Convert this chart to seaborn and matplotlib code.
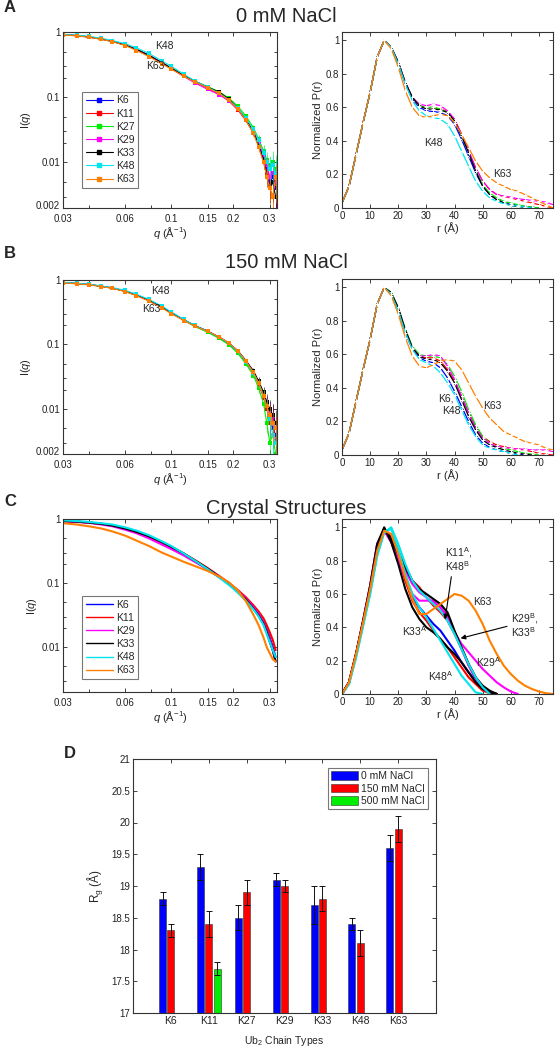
import numpy as np
import pandas as pd
import matplotlib
matplotlib.use('Agg')
import matplotlib.pyplot as plt
import matplotlib.transforms as mtrans
import seaborn as sns
from matplotlib.patches import Patch
from matplotlib.lines import Line2D
from matplotlib.ticker import FixedLocator, NullFormatter, FormatStrFormatter, LogLocator

sns.set_style('ticks')
plt.rcParams['font.family'] = ['Liberation Sans', 'DejaVu Sans']
plt.rcParams['mathtext.fontset'] = 'custom'
plt.rcParams['mathtext.rm'] = 'Liberation Sans'
plt.rcParams['mathtext.it'] = 'Liberation Sans:italic'

# ---- data ----
chains = ['K6', 'K11', 'K27', 'K29', 'K33', 'K48', 'K63']
colors = {'K6': '#0000ff', 'K11': '#ff0000', 'K27': '#00ee00', 'K29': '#ff00ff',
          'K33': '#000000', 'K48': '#00e5ee', 'K63': '#ff8000'}

q = [0.030, 0.035, 0.040, 0.046, 0.052, 0.060, 0.068, 0.078, 0.090, 0.100, 0.115, 0.130,
     0.150, 0.170, 0.190, 0.210, 0.230, 0.250, 0.265, 0.280, 0.290, 0.300, 0.310, 0.320]
q_relerr = [0.005, 0.005, 0.005, 0.005, 0.005, 0.006, 0.007, 0.008, 0.01, 0.01, 0.012, 0.015,
            0.02, 0.025, 0.03, 0.04, 0.06, 0.1, 0.15, 0.22, 0.3, 0.4, 0.5, 0.6]

# 0 mM NaCl, I(q)
iq_0 = {
    'K6':  [0.91, 0.88, 0.84, 0.78, 0.72, 0.63, 0.54, 0.44, 0.34, 0.28, 0.215, 0.175, 0.14, 0.114, 0.090, 0.066, 0.045, 0.029, 0.019, 0.012, 0.008, 0.005, 0.006, 0.004],
    'K11': [0.91, 0.88, 0.84, 0.78, 0.72, 0.63, 0.54, 0.44, 0.34, 0.28, 0.213, 0.172, 0.138, 0.112, 0.088, 0.064, 0.044, 0.028, 0.018, 0.010, 0.007, 0.004, 0.003, 0.005],
    'K27': [0.91, 0.88, 0.84, 0.78, 0.72, 0.63, 0.54, 0.44, 0.34, 0.28, 0.216, 0.177, 0.145, 0.122, 0.097, 0.073, 0.051, 0.034, 0.023, 0.015, 0.011, 0.009, 0.010, 0.008],
    'K29': [0.91, 0.88, 0.84, 0.78, 0.72, 0.63, 0.54, 0.44, 0.34, 0.275, 0.208, 0.166, 0.132, 0.110, 0.088, 0.065, 0.045, 0.030, 0.020, 0.013, 0.009, 0.006, 0.007, 0.005],
    'K33': [0.91, 0.88, 0.84, 0.78, 0.72, 0.63, 0.54, 0.44, 0.34, 0.28, 0.215, 0.176, 0.143, 0.120, 0.094, 0.068, 0.046, 0.030, 0.018, 0.011, 0.006, 0.004, 0.005, 0.003],
    'K48': [0.92, 0.89, 0.86, 0.80, 0.74, 0.66, 0.57, 0.47, 0.36, 0.30, 0.225, 0.178, 0.142, 0.116, 0.091, 0.068, 0.048, 0.032, 0.022, 0.014, 0.010, 0.008, 0.009, 0.007],
    'K63': [0.90, 0.87, 0.83, 0.77, 0.71, 0.62, 0.52, 0.42, 0.325, 0.27, 0.21, 0.172, 0.140, 0.115, 0.090, 0.066, 0.044, 0.028, 0.017, 0.010, 0.006, 0.004, 0.003, 0.006],
}

# 150 mM NaCl, I(q)
iq_150 = {
    'K6':  [0.91, 0.88, 0.85, 0.80, 0.75, 0.67, 0.58, 0.48, 0.38, 0.31, 0.24, 0.195, 0.160, 0.130, 0.104, 0.078, 0.054, 0.036, 0.025, 0.016, 0.011, 0.007, 0.005, 0.004],
    'K11': [0.91, 0.88, 0.85, 0.80, 0.75, 0.67, 0.58, 0.48, 0.38, 0.31, 0.24, 0.194, 0.158, 0.128, 0.102, 0.077, 0.053, 0.036, 0.024, 0.015, 0.010, 0.006, 0.008, 0.003],
    'K27': [0.91, 0.88, 0.85, 0.80, 0.75, 0.67, 0.58, 0.48, 0.38, 0.31, 0.238, 0.19, 0.155, 0.125, 0.099, 0.073, 0.050, 0.033, 0.021, 0.012, 0.006, 0.003, 0.004, 0.002],
    'K29': [0.91, 0.88, 0.85, 0.80, 0.75, 0.67, 0.58, 0.48, 0.38, 0.31, 0.24, 0.196, 0.161, 0.132, 0.106, 0.080, 0.056, 0.038, 0.026, 0.017, 0.012, 0.009, 0.007, 0.005],
    'K33': [0.91, 0.88, 0.85, 0.80, 0.75, 0.67, 0.585, 0.49, 0.385, 0.315, 0.243, 0.197, 0.161, 0.131, 0.105, 0.080, 0.056, 0.039, 0.027, 0.018, 0.013, 0.010, 0.008, 0.006],
    'K48': [0.92, 0.89, 0.86, 0.81, 0.76, 0.69, 0.60, 0.50, 0.395, 0.32, 0.245, 0.197, 0.160, 0.130, 0.104, 0.078, 0.054, 0.036, 0.025, 0.016, 0.011, 0.007, 0.004, 0.003],
    'K63': [0.90, 0.87, 0.84, 0.79, 0.74, 0.66, 0.57, 0.47, 0.37, 0.30, 0.235, 0.192, 0.160, 0.132, 0.106, 0.080, 0.055, 0.037, 0.025, 0.016, 0.011, 0.008, 0.006, 0.005],
}

# crystal structures, I(q)
crystal_chains = ['K6', 'K11', 'K29', 'K33', 'K48', 'K63']
iq_crystal = {
    'K6':  [0.93, 0.91, 0.88, 0.84, 0.79, 0.71, 0.63, 0.53, 0.43, 0.36, 0.28, 0.22, 0.165, 0.125, 0.097, 0.074, 0.056, 0.041, 0.032, 0.024, 0.019, 0.014, 0.010, 0.007],
    'K11': [0.93, 0.91, 0.88, 0.84, 0.79, 0.71, 0.63, 0.53, 0.43, 0.37, 0.29, 0.23, 0.172, 0.13, 0.101, 0.078, 0.060, 0.045, 0.036, 0.028, 0.022, 0.017, 0.013, 0.009],
    'K29': [0.92, 0.90, 0.87, 0.82, 0.77, 0.68, 0.60, 0.50, 0.40, 0.34, 0.27, 0.215, 0.165, 0.128, 0.100, 0.076, 0.057, 0.042, 0.033, 0.024, 0.018, 0.013, 0.009, 0.006],
    'K33': [0.93, 0.91, 0.88, 0.84, 0.79, 0.71, 0.63, 0.54, 0.44, 0.37, 0.29, 0.225, 0.168, 0.127, 0.098, 0.074, 0.055, 0.040, 0.031, 0.023, 0.017, 0.012, 0.009, 0.006],
    'K48': [0.95, 0.93, 0.90, 0.86, 0.82, 0.74, 0.66, 0.56, 0.45, 0.38, 0.29, 0.225, 0.165, 0.123, 0.094, 0.071, 0.053, 0.039, 0.030, 0.022, 0.016, 0.012, 0.009, 0.007],
    'K63': [0.86, 0.82, 0.77, 0.71, 0.64, 0.55, 0.46, 0.38, 0.30, 0.26, 0.215, 0.185, 0.155, 0.128, 0.103, 0.077, 0.052, 0.032, 0.022, 0.014, 0.010, 0.008, 0.0065, 0.006],
}

r = [0, 2.5, 5, 7.5, 10, 12.5, 15, 17.5, 20, 22.5, 25, 27.5, 30, 32.5, 35, 37.5, 40,
     42.5, 45, 47.5, 50, 52.5, 55, 57.5, 60, 62.5, 65, 67.5, 70, 72.5, 75]

pr_0 = {
    'K6':  [0.03, 0.13, 0.32, 0.51, 0.69, 0.90, 1.00, 0.96, 0.86, 0.74, 0.65, 0.60, 0.58, 0.575, 0.57, 0.55, 0.50, 0.41, 0.31, 0.21, 0.13, 0.08, 0.05, 0.035, 0.025, 0.015, 0.01, 0.005, 0, 0, 0],
    'K11': [0.03, 0.13, 0.32, 0.51, 0.69, 0.90, 1.00, 0.96, 0.87, 0.75, 0.66, 0.61, 0.60, 0.60, 0.59, 0.575, 0.53, 0.44, 0.34, 0.24, 0.16, 0.11, 0.08, 0.07, 0.06, 0.05, 0.04, 0.03, 0.02, 0.01, 0],
    'K27': [0.03, 0.13, 0.32, 0.51, 0.69, 0.90, 1.00, 0.96, 0.87, 0.75, 0.66, 0.61, 0.60, 0.60, 0.59, 0.57, 0.52, 0.43, 0.33, 0.23, 0.14, 0.09, 0.06, 0.04, 0.03, 0.02, 0.01, 0.005, 0, 0, 0],
    'K29': [0.03, 0.13, 0.32, 0.51, 0.69, 0.90, 1.00, 0.96, 0.87, 0.75, 0.66, 0.62, 0.61, 0.62, 0.61, 0.58, 0.53, 0.44, 0.34, 0.24, 0.16, 0.11, 0.08, 0.07, 0.065, 0.055, 0.05, 0.045, 0.04, 0.035, 0.02],
    'K33': [0.03, 0.13, 0.32, 0.51, 0.69, 0.90, 1.00, 0.96, 0.87, 0.75, 0.66, 0.61, 0.59, 0.59, 0.585, 0.57, 0.52, 0.43, 0.33, 0.22, 0.13, 0.08, 0.05, 0.03, 0.015, 0.008, 0.004, 0, 0, 0, 0],
    'K48': [0.03, 0.13, 0.32, 0.51, 0.69, 0.90, 1.00, 0.96, 0.86, 0.74, 0.64, 0.58, 0.55, 0.54, 0.53, 0.50, 0.43, 0.34, 0.25, 0.16, 0.10, 0.06, 0.04, 0.025, 0.015, 0.01, 0.005, 0, 0, 0, 0],
    'K63': [0.03, 0.13, 0.32, 0.51, 0.69, 0.90, 1.00, 0.95, 0.84, 0.70, 0.60, 0.55, 0.54, 0.55, 0.56, 0.55, 0.51, 0.44, 0.36, 0.28, 0.22, 0.18, 0.15, 0.13, 0.11, 0.10, 0.08, 0.06, 0.04, 0.02, 0],
}

pr_150 = {
    'K6':  [0.03, 0.13, 0.32, 0.51, 0.69, 0.90, 1.00, 0.96, 0.86, 0.73, 0.63, 0.58, 0.56, 0.55, 0.52, 0.46, 0.38, 0.29, 0.20, 0.12, 0.07, 0.045, 0.03, 0.02, 0.01, 0.005, 0, 0, 0, 0, 0],
    'K11': [0.03, 0.13, 0.32, 0.51, 0.69, 0.90, 1.00, 0.96, 0.87, 0.74, 0.64, 0.59, 0.58, 0.58, 0.56, 0.51, 0.44, 0.35, 0.25, 0.17, 0.11, 0.08, 0.06, 0.05, 0.04, 0.035, 0.03, 0.02, 0.01, 0.005, 0],
    'K27': [0.03, 0.13, 0.32, 0.51, 0.69, 0.90, 1.00, 0.97, 0.88, 0.75, 0.65, 0.60, 0.59, 0.59, 0.58, 0.54, 0.47, 0.38, 0.27, 0.18, 0.11, 0.07, 0.05, 0.04, 0.03, 0.02, 0.01, 0.005, 0, 0, 0],
    'K29': [0.03, 0.13, 0.32, 0.51, 0.69, 0.90, 1.00, 0.96, 0.87, 0.74, 0.64, 0.59, 0.59, 0.60, 0.59, 0.53, 0.45, 0.35, 0.25, 0.16, 0.10, 0.07, 0.05, 0.045, 0.04, 0.035, 0.035, 0.03, 0.03, 0.03, 0.02],
    'K33': [0.03, 0.13, 0.32, 0.51, 0.69, 0.90, 1.00, 0.97, 0.88, 0.75, 0.64, 0.59, 0.57, 0.57, 0.55, 0.50, 0.43, 0.33, 0.23, 0.15, 0.09, 0.06, 0.045, 0.03, 0.02, 0.01, 0.005, 0, 0, 0, 0],
    'K48': [0.03, 0.13, 0.32, 0.51, 0.69, 0.90, 1.00, 0.96, 0.86, 0.73, 0.63, 0.57, 0.55, 0.53, 0.49, 0.43, 0.36, 0.27, 0.18, 0.11, 0.06, 0.04, 0.03, 0.02, 0.01, 0, 0, 0, 0, 0, 0],
    'K63': [0.03, 0.13, 0.32, 0.51, 0.69, 0.90, 1.00, 0.95, 0.84, 0.70, 0.59, 0.53, 0.52, 0.54, 0.56, 0.57, 0.56, 0.51, 0.43, 0.35, 0.28, 0.22, 0.18, 0.14, 0.12, 0.10, 0.08, 0.07, 0.06, 0.04, 0.03],
}

# crystal P(r)
pr_crystal_names = ['K6', 'K11A', 'K11B', 'K29A', 'K29B', 'K33B', 'K33A', 'K48A', 'K48B', 'K63']
pr_crystal_color = ['K6', 'K11', 'K11', 'K29', 'K29', 'K33', 'K33', 'K48', 'K48', 'K63']
pr_crystal = {
    'K6':   [0, 0.07, 0.24, 0.43, 0.63, 0.86, 0.99, 0.94, 0.83, 0.70, 0.58, 0.52, 0.47, 0.42, 0.38, 0.32, 0.26, 0.19, 0.13, 0.08, 0.04, 0.015, 0, 0, 0, 0, 0, 0, 0, 0, 0],
    'K11A': [0, 0.07, 0.24, 0.43, 0.63, 0.86, 0.99, 0.95, 0.86, 0.76, 0.68, 0.64, 0.58, 0.53, 0.49, 0.44, 0.36, 0.27, 0.18, 0.10, 0.04, 0.01, 0, 0, 0, 0, 0, 0, 0, 0, 0],
    'K11B': [0, 0.07, 0.24, 0.43, 0.63, 0.86, 0.99, 0.94, 0.82, 0.68, 0.56, 0.49, 0.44, 0.38, 0.33, 0.28, 0.22, 0.16, 0.10, 0.06, 0.02, 0.005, 0, 0, 0, 0, 0, 0, 0, 0, 0],
    'K29A': [0, 0.07, 0.24, 0.44, 0.65, 0.90, 0.98, 0.91, 0.80, 0.70, 0.60, 0.56, 0.56, 0.56, 0.52, 0.45, 0.37, 0.30, 0.25, 0.20, 0.15, 0.11, 0.07, 0.04, 0.015, 0, 0, 0, 0, 0, 0],
    'K29B': [0, 0.07, 0.24, 0.44, 0.65, 0.90, 0.98, 0.92, 0.83, 0.74, 0.66, 0.61, 0.58, 0.55, 0.52, 0.47, 0.37, 0.27, 0.17, 0.09, 0.04, 0.015, 0, 0, 0, 0, 0, 0, 0, 0, 0],
    'K33B': [0, 0.07, 0.24, 0.43, 0.63, 0.86, 0.99, 0.93, 0.84, 0.76, 0.68, 0.63, 0.60, 0.57, 0.54, 0.49, 0.38, 0.28, 0.18, 0.10, 0.05, 0.02, 0, 0, 0, 0, 0, 0, 0, 0, 0],
    'K33A': [0, 0.07, 0.24, 0.44, 0.65, 0.90, 1.00, 0.91, 0.78, 0.63, 0.52, 0.45, 0.40, 0.37, 0.33, 0.28, 0.24, 0.19, 0.13, 0.07, 0.03, 0.01, 0, 0, 0, 0, 0, 0, 0, 0, 0],
    'K48A': [0, 0.06, 0.22, 0.41, 0.60, 0.83, 0.97, 0.99, 0.87, 0.72, 0.60, 0.52, 0.46, 0.39, 0.32, 0.25, 0.18, 0.11, 0.06, 0.01, 0, 0, 0, 0, 0, 0, 0, 0, 0, 0, 0],
    'K48B': [0, 0.06, 0.22, 0.41, 0.60, 0.83, 0.97, 1.00, 0.90, 0.78, 0.68, 0.62, 0.58, 0.54, 0.50, 0.44, 0.36, 0.27, 0.18, 0.10, 0.04, 0, 0, 0, 0, 0, 0, 0, 0, 0, 0],
    'K63':  [0, 0.07, 0.24, 0.43, 0.63, 0.86, 0.98, 0.96, 0.84, 0.70, 0.57, 0.48, 0.48, 0.51, 0.54, 0.57, 0.60, 0.59, 0.56, 0.50, 0.42, 0.32, 0.24, 0.17, 0.12, 0.08, 0.05, 0.03, 0.015, 0.005, 0],
}

# Rg bar chart
rg_conditions = ['0 mM NaCl', '150 mM NaCl', '500 mM NaCl']
rg_colors = ['#0000ff', '#ff0000', '#00ee00']
rg_0 = [18.8, 19.3, 18.5, 19.1, 18.7, 18.4, 19.6]
rg_0_err = [0.1, 0.2, 0.2, 0.1, 0.3, 0.1, 0.2]
rg_150 = [18.3, 18.4, 18.9, 19.0, 18.8, 18.1, 19.9]
rg_150_err = [0.1, 0.2, 0.2, 0.1, 0.2, 0.2, 0.2]
rg_500_chain = ['K11']
rg_500 = [17.7]
rg_500_err = [0.1]

q_ticks = [0.03, 0.06, 0.1, 0.15, 0.2, 0.3]
q_ticklabels = ['0.03', '0.06', '0.1', '0.15', '0.2', '0.3']

W, H = 555, 1050
fig = plt.figure(figsize=(W / 100, H / 100), dpi=100)


def add_ax(x0, y0, x1, y1):
    return fig.add_axes([x0 / W, 1 - y1 / H, (x1 - x0) / W, (y1 - y0) / H])


def box(ax):
    for s in ax.spines.values():
        s.set_linewidth(0.8)
        s.set_color('#333333')
    ax.tick_params(which='both', direction='in', top=True, right=True, labelsize=7,
                   length=3, width=0.6, pad=2, colors='#222222')
    ax.tick_params(which='minor', length=2)


def trim(vals):
    v = list(vals)
    last = max(i for i, x in enumerate(v) if x > 0)
    return v[:min(last + 2, len(v))]


def iq_axes(ax, low_tick=True):
    ax.set_xscale('log')
    ax.set_yscale('log')
    ax.set_xlim(0.03, 0.325)
    ax.set_ylim(0.002, 1)
    ax.xaxis.set_major_locator(FixedLocator(q_ticks))
    ax.xaxis.set_major_formatter(plt.FixedFormatter(q_ticklabels))
    ax.xaxis.set_minor_locator(FixedLocator([0.04, 0.08]))
    ax.xaxis.set_minor_formatter(NullFormatter())
    yt = [0.002, 0.01, 0.1, 1] if low_tick else [0.01, 0.1, 1]
    ax.yaxis.set_major_locator(FixedLocator(yt))
    ax.yaxis.set_major_formatter(plt.FixedFormatter(['%g' % v for v in yt]))
    ax.yaxis.set_minor_locator(LogLocator(base=10, subs=(2, 3, 5)))
    ax.yaxis.set_minor_formatter(NullFormatter())
    ax.set_xlabel(r'$\mathit{q}$ (Å$^{-1}$)', fontsize=8, labelpad=1)
    ax.set_ylabel(r'I($\mathit{q}$)', fontsize=8, labelpad=2)
    box(ax)
    ax.tick_params(axis='x', pad=4)
    if low_tick:
        # lift the lowest y label a little so it clears the first q label
        lab = ax.yaxis.get_major_ticks()[0].label1
        lab.set_transform(lab.get_transform() + mtrans.ScaledTranslation(0, 3 / 100, fig.dpi_scale_trans))


def pr_axes(ax):
    ax.set_xlim(0, 75)
    ax.set_ylim(0, 1.05)
    ax.set_xticks(range(0, 80, 10))
    ax.set_yticks([0, 0.2, 0.4, 0.6, 0.8, 1])
    ax.yaxis.set_major_formatter(FormatStrFormatter('%g'))
    ax.set_xlabel('r (Å)', fontsize=8, labelpad=1)
    ax.set_ylabel('Normalized P(r)', fontsize=8, labelpad=2)
    box(ax)


def draw_iq(ax, data):
    for c in chains:
        y = np.array(data[c])
        ax.errorbar(q, y, yerr=y * np.array(q_relerr), fmt='none', ecolor=colors[c],
                    elinewidth=0.5, capsize=0, alpha=0.8)
        sns.lineplot(x=q, y=data[c], ax=ax, color=colors[c], marker='s', markersize=2.2,
                     markeredgewidth=0, linewidth=0.8, linestyle='-', sort=False)
    handles = [Line2D([], [], color=colors[c], marker='s', markersize=2.2, lw=0.8) for c in chains]
    leg = ax.legend(handles, chains, loc='lower left', bbox_to_anchor=(0.065, 0.085),
                    fontsize=7.5, frameon=True, fancybox=False, edgecolor='#555555',
                    handlelength=2.6, labelspacing=0.3, borderpad=0.35, handletextpad=0.3)
    leg.get_frame().set_linewidth(0.8)


def draw_pr(ax, data):
    for c in chains:
        v = trim(data[c])
        sns.lineplot(x=r[:len(v)], y=v, ax=ax, color=colors[c], marker='+', markersize=3.5,
                     markeredgewidth=0.7, linewidth=0.9, linestyle='-', dashes=False,
                     sort=False)


# ---- panel A ----
ax = add_ax(63, 32, 277, 208)
draw_iq(ax, iq_0)
iq_axes(ax)
ax.text(0.093, 0.6, 'K48', fontsize=7.5, ha='center', va='center')
ax.text(0.084, 0.30, 'K63', fontsize=7.5, ha='center', va='center')

ax = add_ax(342, 32, 553, 208)
draw_pr(ax, pr_0)
pr_axes(ax)
ax.text(32.5, 0.39, 'K48', fontsize=7.5, ha='center', va='center')
ax.text(57, 0.2, 'K63', fontsize=7.5, ha='center', va='center')

# ---- panel B ----
ax = add_ax(63, 280, 277, 454)
draw_iq(ax, iq_150)
ax.get_legend().remove()
iq_axes(ax)
ax.text(0.089, 0.68, 'K48', fontsize=7.5, ha='center', va='center')
ax.text(0.080, 0.35, 'K63', fontsize=7.5, ha='center', va='center')

ax = add_ax(342, 279, 553, 455)
draw_pr(ax, pr_150)
pr_axes(ax)
ax.text(37, 0.34, 'K6,', fontsize=7.5, ha='center', va='center')
ax.text(39, 0.26, 'K48', fontsize=7.5, ha='center', va='center')
ax.text(53.5, 0.29, 'K63', fontsize=7.5, ha='center', va='center')

# ---- panel C ----
ax = add_ax(63, 519, 277, 692)
for c in crystal_chains:
    sns.lineplot(x=q, y=iq_crystal[c], ax=ax, color=colors[c], linewidth=1.5, sort=False)
iq_axes(ax, low_tick=False)
handles = [Line2D([], [], color=colors[c], lw=1.0) for c in crystal_chains]
leg = ax.legend(handles, crystal_chains, loc='lower left', bbox_to_anchor=(0.065, 0.045),
                fontsize=7.5, frameon=True, fancybox=False, edgecolor='#555555',
                handlelength=2.6, labelspacing=0.3, borderpad=0.35, handletextpad=0.3)
leg.get_frame().set_linewidth(0.8)

ax = add_ax(342, 519, 553, 694)
for name, ck in zip(pr_crystal_names, pr_crystal_color):
    v = trim(pr_crystal[name])
    sns.lineplot(x=r[:len(v)], y=v, ax=ax, color=colors[ck], linewidth=1.5, sort=False)
pr_axes(ax)
fs = 7.5
ax.text(36.5, 0.85, r'K11$^{\rm A}$,', fontsize=fs, ha='left', va='center')
ax.text(36.5, 0.77, r'K48$^{\rm B}$', fontsize=fs, ha='left', va='center')
ax.annotate('', xy=(36.5, 0.43), xytext=(39, 0.72),
            arrowprops=dict(arrowstyle='-|>', color='k', lw=0.8, mutation_scale=7))
ax.text(46.5, 0.55, 'K63', fontsize=fs, ha='left', va='center')
ax.text(60.2, 0.45, r'K29$^{\rm B}$,', fontsize=fs, ha='left', va='center')
ax.text(60.2, 0.37, r'K33$^{\rm B}$', fontsize=fs, ha='left', va='center')
ax.annotate('', xy=(41.2, 0.33), xytext=(59.6, 0.41),
            arrowprops=dict(arrowstyle='-|>', color='k', lw=0.8, mutation_scale=7))
ax.text(21.5, 0.38, r'K33$^{\rm A}$', fontsize=fs, ha='left', va='center')
ax.text(47.8, 0.19, r'K29$^{\rm A}$', fontsize=fs, ha='left', va='center')
ax.text(30.6, 0.11, r'K48$^{\rm A}$', fontsize=fs, ha='left', va='center')

# ---- panel D ----
rows = []
for c, v in zip(chains, rg_0):
    rows.append((c, rg_conditions[0], v))
for c, v in zip(chains, rg_150):
    rows.append((c, rg_conditions[1], v))
for c, v in zip(rg_500_chain, rg_500):
    rows.append((c, rg_conditions[2], v))
df = pd.DataFrame(rows, columns=['chain', 'cond', 'rg'])
errs = {}
for c, e in zip(chains, rg_0_err):
    errs[(c, rg_conditions[0])] = e
for c, e in zip(chains, rg_150_err):
    errs[(c, rg_conditions[1])] = e
for c, e in zip(rg_500_chain, rg_500_err):
    errs[(c, rg_conditions[2])] = e

ax = add_ax(133, 759, 436, 1013)
sns.barplot(data=df, x='chain', y='rg', hue='cond', order=chains, hue_order=rg_conditions,
            palette=rg_colors, width=0.66, gap=0.16, errorbar=None, ax=ax,
            edgecolor='#333333', linewidth=0.4, saturation=1)
for cond, cont in zip(rg_conditions, ax.containers):
    for patch in cont:
        h = patch.get_height()
        if not np.isfinite(h) or h == 0:
            continue
        cx = patch.get_x() + patch.get_width() / 2
        chain = chains[int(round(cx))]
        ax.errorbar(cx, h, yerr=errs[(chain, cond)], fmt='none', ecolor='#111111',
                    elinewidth=0.7, capsize=2, capthick=0.7)
ax.set_xlim(-1, 7)
ax.set_ylim(17, 21)
ax.set_yticks(np.arange(17, 21.01, 0.5))
ax.yaxis.set_major_formatter(FormatStrFormatter('%g'))
ax.set_xlabel('Ub$_2$ Chain Types', fontsize=7.5, labelpad=6)
ax.set_ylabel('R$_{\\rm g}$ (Å)', fontsize=8.5, labelpad=4)
box(ax)
ax.tick_params(axis='x', labelsize=7.5)
handles = [Patch(facecolor=col, edgecolor='#333333', linewidth=0.4) for col in rg_colors]
leg = ax.legend(handles, rg_conditions, loc='upper right', bbox_to_anchor=(0.99, 0.985),
                fontsize=7.5, frameon=True, fancybox=False, edgecolor='#555555',
                handlelength=2.6, handleheight=0.9, labelspacing=0.25, borderpad=0.3,
                handletextpad=0.3)
leg.get_frame().set_linewidth(0.8)

# ---- titles and panel letters ----
fig.text(286 / W, 1 - 16 / H, '0 mM NaCl', fontsize=14.5, ha='center', va='center')
fig.text(286 / W, 1 - 263 / H, '150 mM NaCl', fontsize=14.5, ha='center', va='center')
fig.text(286 / W, 1 - 509 / H, 'Crystal Structures', fontsize=14.5, ha='center', va='center')
for letter, (x, y) in zip('ABCD', [(4, 8), (4, 254), (4, 502), (64, 754)]):
    fig.text(x / W, 1 - y / H, letter, fontsize=12, fontweight='bold', ha='left', va='center')

fig.savefig('out.png', dpi=100)
